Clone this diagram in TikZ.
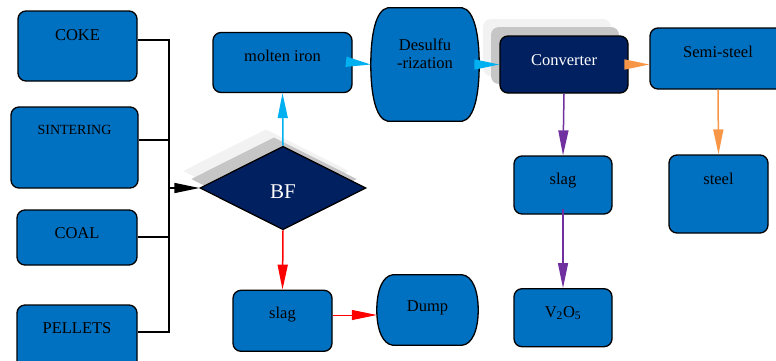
\documentclass[tikz,border=0pt]{standalone}
\usepackage{fontspec}
\setmainfont{Liberation Serif}
\usetikzlibrary{arrows.meta,shapes.geometric,shadows,backgrounds}
\definecolor{boxblue}{HTML}{0070C0}
\definecolor{navy}{HTML}{002060}
\definecolor{ironcyan}{HTML}{00B0F0}
\definecolor{vanpurple}{HTML}{7030A0}
\definecolor{steelorange}{HTML}{F79646}
\tikzset{
  box/.style={draw, line width=1.3pt, fill=boxblue, rounded corners=8pt, inner sep=0pt,
    text height=12pt, font=\fontsize{16.5}{18}\selectfont},
  drum/.style={inner sep=0pt, text height=12pt, font=\fontsize{16.5}{18}\selectfont},
  drumline/.style={draw, line width=1.3pt, fill=boxblue, line join=round},
  layered/.style={general shadow={fill=gray!10, shadow xshift=-17pt, shadow yshift=17pt},
    general shadow={fill=gray!45, shadow xshift=-9pt, shadow yshift=9pt}},
  flow/.style={line width=1.5pt, -{Triangle[length=25pt,width=10pt]}},
  wire/.style={line width=1.5pt}
}
\begin{document}
\begin{tikzpicture}[x=1pt, y=-1pt]
        \useasboundingbox (0,0) rectangle (776,360);

        % Raw materials (left column)
        \node[box, minimum width=119pt, minimum height=70pt, text depth=22.6pt] (COKE) at (77.5,46) {COKE};
        \node[box, minimum width=127pt, minimum height=81pt, text depth=38pt, font=\fontsize{14}{16}\selectfont] (SINT) at (74.5,147.5) {SINTERING};
        \node[box, minimum width=120pt, minimum height=55pt, text depth=11pt] (COAL) at (77,237.5) {COAL};
        \node[box, minimum width=120pt, minimum height=65pt, text depth=19.6pt] (PEL) at (77,337.5) {PELLETS};

        % Blast furnace
        \node[diamond, draw, line width=1.3pt, fill=navy, text=white, layered, inner sep=0pt,
              minimum width=166pt, minimum height=83.5pt, text height=21pt, text depth=0pt,
              font=\fontsize{21}{24}\selectfont] (BF) at (283,188) {BF};

        % Products and steps
        \node[box, minimum width=139pt, minimum height=60pt, text depth=13.6pt] (IRON) at (282.5,62.5) {molten iron};
        \node[box, minimum width=99pt, minimum height=61pt, text depth=17pt] (SLAG1) at (282.5,320.8) {slag};
        \node[drum, minimum width=108pt, minimum height=113pt, align=center, text depth=5pt] (DESULF) at (425,64.5) {Desulfu\\-rization};
        \node[drum, minimum width=101pt, minimum height=70pt, text depth=8.6pt] (DUMP) at (427.5,310) {Dump};
        \node[box, fill=navy, text=white, layered, minimum width=128pt, minimum height=57pt, text depth=10.6pt] (CONV) at (564,64.5) {Converter};
        \node[box, minimum width=136pt, minimum height=61pt, text depth=14.4pt] (SEMI) at (718,58.5) {Semi-steel};
        \node[box, minimum width=98pt, minimum height=58pt, text depth=13.4pt] (SLAG2) at (563,185) {slag};
        \node[box, minimum width=98pt, minimum height=58pt, text depth=12.8pt] (V2O5) at (563,317.7) {V\textsubscript{2}O\textsubscript{5}};
        \node[box, minimum width=99pt, minimum height=78pt, text depth=31pt] (STEEL) at (718.5,194) {steel};

        % Bulged outlines behind the two drum nodes
        \begin{scope}[on background layer]
          \draw[drumline] (DESULF.north) -- ([xshift=-17pt]DESULF.north east)
            .. controls ([xshift=-5pt,yshift=-2pt]DESULF.north east) and ([yshift=30pt]DESULF.east) .. (DESULF.east)
            .. controls ([yshift=-30pt]DESULF.east) and ([xshift=-5pt,yshift=2pt]DESULF.south east) .. ([xshift=-17pt]DESULF.south east)
            -- ([xshift=17pt]DESULF.south west)
            .. controls ([xshift=5pt,yshift=2pt]DESULF.south west) and ([yshift=-30pt]DESULF.west) .. (DESULF.west)
            .. controls ([yshift=30pt]DESULF.west) and ([xshift=5pt,yshift=-2pt]DESULF.north west) .. ([xshift=17pt]DESULF.north west) -- cycle;
          \draw[drumline] (DUMP.north) -- ([xshift=-16pt]DUMP.north east)
            .. controls ([xshift=-6pt,yshift=-1pt]DUMP.north east) and ([yshift=20pt]DUMP.east) .. (DUMP.east)
            .. controls ([yshift=-20pt]DUMP.east) and ([xshift=-6pt,yshift=1pt]DUMP.south east) .. ([xshift=-16pt]DUMP.south east)
            -- ([xshift=16pt]DUMP.south west)
            .. controls ([xshift=6pt,yshift=1pt]DUMP.south west) and ([yshift=-20pt]DUMP.west) .. (DUMP.west)
            .. controls ([yshift=20pt]DUMP.west) and ([xshift=6pt,yshift=-1pt]DUMP.north west) .. ([xshift=16pt]DUMP.north west) -- cycle;
        \end{scope}

        % Feed bus into BF
        \coordinate (BUS) at (169,188);
        \draw[wire] ([yshift=6pt]COKE.east) -| (BUS);
        \draw[wire] ([yshift=7.5pt]SINT.east) -| (BUS);
        \draw[wire] ([yshift=0.5pt]COAL.east) -| (BUS);
        \draw[wire] ([yshift=5.5pt]PEL.east) -| (BUS);
        \draw[flow] (BUS) -- (BF.west);

        % Process flow
        \draw[flow, ironcyan] (BF.north) -- (IRON.south);
        \draw[flow, red] (BF.south) -- (SLAG1.north);
        \draw[flow, red, line width=1pt] ([yshift=-5pt]SLAG1.east |- DUMP.west) -- ([yshift=-5pt]DUMP.west);
        \draw[flow, ironcyan] (IRON.east) -- (DESULF.west);
        \draw[flow, ironcyan] (DESULF.east) -- (CONV.west);
        \draw[flow, steelorange] (CONV.east) -- (SEMI.west |- CONV.east);
        \draw[flow, vanpurple] (CONV.south) -- (SLAG2.north);
        \draw[flow, vanpurple] ([yshift=6pt]SLAG2.south) -- (V2O5.north);
        \draw[flow, steelorange] (SEMI.south) -- (STEEL.north);
\end{tikzpicture}
\end{document}
